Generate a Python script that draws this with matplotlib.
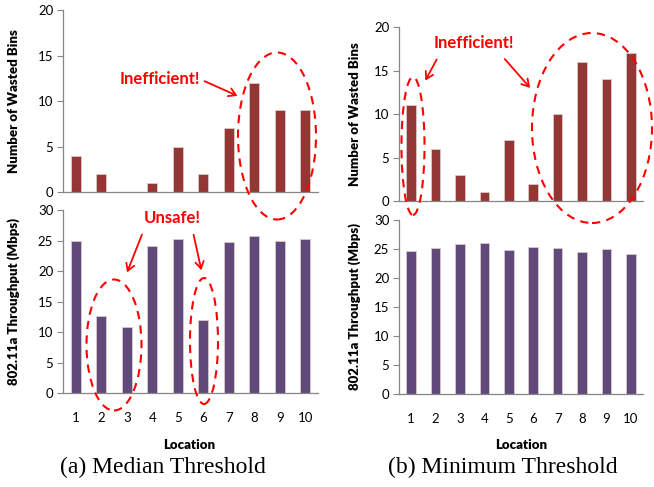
import numpy as np
import matplotlib
matplotlib.use('Agg')
import matplotlib.pyplot as plt
from matplotlib.patches import Ellipse, FancyArrowPatch

locations = list(range(1, 11))
wasted_median = [4, 2, 0, 1, 5, 2, 7, 12, 9, 9]
thr_median = [25.0, 12.7, 10.9, 24.1, 25.3, 11.9, 24.7, 25.8, 25.0, 25.2]
wasted_min = [11, 6, 3, 1, 7, 2, 10, 16, 14, 17]
thr_min = [24.7, 25.2, 25.8, 26.0, 24.9, 25.4, 25.2, 24.4, 25.0, 24.1]

ROJO = '#943634'
MORADO = '#604A7B'
GRIS = '#868686'
W, H = 654, 487

plt.rcParams['font.family'] = ['Lato', 'DejaVu Sans']

fig = plt.figure(figsize=(6.54, 4.87), dpi=100)


def px(x, y):
    return x / W, 1 - y / H


def caja(x0, y0, x1, y1):
    # y0 arriba, y1 abajo (en pixeles)
    return [x0 / W, 1 - y1 / H, (x1 - x0) / W, (y1 - y0) / H]


def barras(ax, valores, color, ymax, etiqueta, ticks_x):
    ax.bar(locations, valores, width=0.4, color=color, edgecolor='#d9c9c9', linewidth=0.6)
    ax.set_xlim(0.5, 10.5)
    ax.set_ylim(0, ymax)
    ax.set_yticks(np.arange(0, ymax + 1, 5))
    for s in ['top', 'right']:
        ax.spines[s].set_visible(False)
    for s in ['left', 'bottom']:
        ax.spines[s].set_color(GRIS)
        ax.spines[s].set_linewidth(0.9)
    ax.tick_params(axis='y', direction='out', length=4, color=GRIS, labelsize=9.5, pad=3)
    ax.tick_params(axis='x', length=0, labelsize=9.5, pad=14)
    ax.set_xticks(locations)
    if not ticks_x:
        ax.set_xticklabels([])
    ax.set_ylabel(etiqueta, fontsize=9.5, fontweight='heavy', labelpad=6)


ax1 = fig.add_axes(caja(63, 10, 318, 192))
barras(ax1, wasted_median, ROJO, 20, 'Number of Wasted Bins', False)
ax2 = fig.add_axes(caja(63, 210, 318, 393))
barras(ax2, thr_median, MORADO, 30, '802.11a Throughput (Mbps)', True)
ax3 = fig.add_axes(caja(399, 27, 643, 201))
barras(ax3, wasted_min, ROJO, 20, 'Number of Wasted Bins', False)
ax4 = fig.add_axes(caja(399, 220, 643, 394))
barras(ax4, thr_min, MORADO, 30, '802.11a Throughput (Mbps)', True)

for ax in [ax1, ax2]:
    ax.yaxis.set_label_coords(-0.17, 0.5)
for ax in [ax3, ax4]:
    ax.yaxis.set_label_coords(-0.155, 0.5)

fig.text(*px(189, 445), 'Location', ha='center', va='center', fontsize=9.5, fontweight='heavy')
fig.text(*px(521, 445), 'Location', ha='center', va='center', fontsize=9.5, fontweight='heavy')
fig.text(*px(163, 467), '(a) Median Threshold', ha='center', va='center', fontsize=17,
         family='Liberation Serif')
fig.text(*px(503, 467), '(b) Minimum Threshold', ha='center', va='center', fontsize=17,
         family='Liberation Serif')

# anotaciones en rojo
elipses = [(277, 136, 78, 167), (114, 345, 55, 131), (204, 341, 28, 126),
           (413, 146, 23, 138), (592, 128, 120, 190)]
for cx, cy, ew, eh in elipses:
    e = Ellipse(px(cx, cy), ew / W, eh / H, transform=fig.transFigure, fill=False,
                edgecolor='red', linestyle=(0, (4, 3)), linewidth=1.5, clip_on=False)
    fig.patches.append(e)

textos = [(160, 79, 'Inefficient!'), (172, 218, 'Unsafe!'), (474, 43, 'Inefficient!')]
for x, y, t in textos:
    fig.text(*px(x, y), t, ha='center', va='center', color='red', fontsize=12, fontweight='bold')

flechas = [((202, 80), (240, 97)), ((143, 232), (126, 275)), ((193, 232), (202, 273)),
           ((438, 57), (424, 83)), ((503, 57), (532, 90))]
for a, b in flechas:
    f = FancyArrowPatch(px(*a), px(*b), transform=fig.transFigure, arrowstyle='->,head_length=5,head_width=3',
                        color='red', linewidth=1.3, mutation_scale=1)
    fig.patches.append(f)

fig.savefig('out.png', dpi=100)
